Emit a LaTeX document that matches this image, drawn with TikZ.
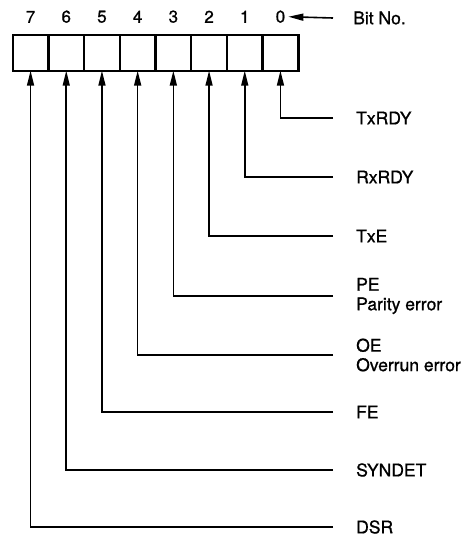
\documentclass[tikz,border=0pt]{standalone}
\usepackage{fontspec}
\setmainfont{TeX Gyre Heros}[FakeBold=0.9]
\usetikzlibrary{arrows.meta,positioning}

\begin{document}
\begin{tikzpicture}[x=1pt, y=-1pt,
    cell/.style={rectangle, draw, line width=2.4pt, minimum width=35.7pt, minimum height=35.7pt, inner sep=0pt, outer sep=0pt},
    bitnum/.style={inner sep=0pt, font=\fontsize{17}{20}\selectfont},
    flag/.style={anchor=west, inner sep=0pt, align=left, font=\fontsize{17.5}{19.5}\selectfont},
    arrow/.style={-{Triangle[length=15pt, width=7pt]}, line width=1.6pt},
]
\useasboundingbox (0,0) rectangle (462,538);
% register cells, bit 7 on the left
\node[cell] (c7) at (30.55,52.85) {};
\node[cell, right=0pt of c7] (c6) {};
\node[cell, right=0pt of c6] (c5) {};
\node[cell, right=0pt of c5] (c4) {};
\node[cell, right=0pt of c4] (c3) {};
\node[cell, right=0pt of c3] (c2) {};
\node[cell, right=0pt of c2] (c1) {};
\node[cell, right=0pt of c1] (c0) {};
% bit numbers
\node[bitnum, above=12pt of c7] (d7) {7};
\node[bitnum, above=12pt of c6] (d6) {6};
\node[bitnum, above=12pt of c5] (d5) {5};
\node[bitnum, above=12pt of c4] (d4) {4};
\node[bitnum, above=12pt of c3] (d3) {3};
\node[bitnum, above=12pt of c2] (d2) {2};
\node[bitnum, above=12pt of c1] (d1) {1};
\node[bitnum, above=12pt of c0] (d0) {0};
\node[flag] (bitno) at (353,18) {Bit No.};
\draw[arrow, shorten >=3pt] ([xshift=-20pt]bitno.west) -- (d0.east);
% status flags
\node[flag] (txrdy) at (356,118) {TxRDY};
\node[flag] (rxrdy) at (356,177) {RxRDY};
\node[flag] (txe) at (356,236) {TxE};
\node[flag] (pe) at (356,296) {PE\\Parity error};
\node[flag] (oe) at (356,355) {OE\\Overrun error};
\node[flag] (fe) at (356,412) {FE};
\node[flag] (syndet) at (356,470) {SYNDET};
\node[flag] (dsr) at (356,527) {DSR};
\draw[arrow] ([xshift=-23pt]txrdy.west) -| (c0.south);
\draw[arrow] ([xshift=-23pt]rxrdy.west) -| (c1.south);
\draw[arrow] ([xshift=-23pt]txe.west) -| (c2.south);
\draw[arrow] ([xshift=-23pt]pe.west) -| (c3.south);
\draw[arrow] ([xshift=-23pt]oe.west) -| (c4.south);
\draw[arrow] ([xshift=-23pt]fe.west) -| (c5.south);
\draw[arrow] ([xshift=-23pt]syndet.west) -| (c6.south);
\draw[arrow] ([xshift=-23pt]dsr.west) -| (c7.south);
\end{tikzpicture}
\end{document}
